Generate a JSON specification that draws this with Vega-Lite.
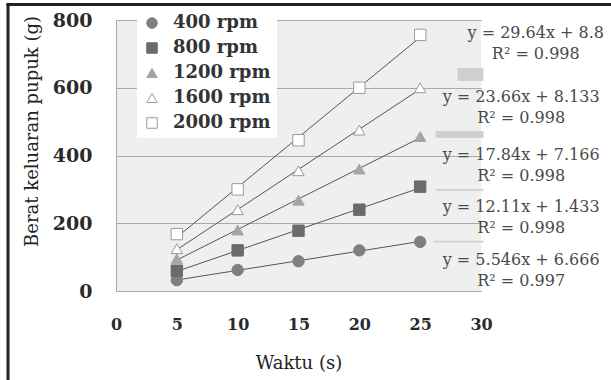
{
  "$schema": "https://vega.github.io/schema/vega-lite/v6.json",
  "width": 365,
  "height": 271,
  "autosize": {"type": "none"},
  "padding": {"left": 116, "top": 20, "right": 130, "bottom": 89},
  "background": "white",
  "config": {
    "view": {"stroke": null, "fill": "#efefef"},
    "font": "DejaVu Serif",
    "legend": {
      "orient": "none",
      "legendX": 21,
      "legendY": -12,
      "fillColor": "white",
      "padding": 6,
      "labelFont": "DejaVu Serif",
      "labelFontSize": 18,
      "labelFontWeight": "bold",
      "labelColor": "#333333",
      "symbolSize": 110,
      "symbolStrokeWidth": 1,
      "rowPadding": 7,
      "labelOffset": 12
    }
  },
  "datasets": {
    "points": [
      {"series": "400 rpm", "t": 5, "w": 32},
      {"series": "400 rpm", "t": 10, "w": 62},
      {"series": "400 rpm", "t": 15, "w": 88},
      {"series": "400 rpm", "t": 20, "w": 120},
      {"series": "400 rpm", "t": 25, "w": 145},
      {"series": "800 rpm", "t": 5, "w": 60},
      {"series": "800 rpm", "t": 10, "w": 120},
      {"series": "800 rpm", "t": 15, "w": 178},
      {"series": "800 rpm", "t": 20, "w": 240},
      {"series": "800 rpm", "t": 25, "w": 308},
      {"series": "1200 rpm", "t": 5, "w": 95},
      {"series": "1200 rpm", "t": 10, "w": 180},
      {"series": "1200 rpm", "t": 15, "w": 268},
      {"series": "1200 rpm", "t": 20, "w": 360},
      {"series": "1200 rpm", "t": 25, "w": 456},
      {"series": "1600 rpm", "t": 5, "w": 125},
      {"series": "1600 rpm", "t": 10, "w": 240},
      {"series": "1600 rpm", "t": 15, "w": 355},
      {"series": "1600 rpm", "t": 20, "w": 475},
      {"series": "1600 rpm", "t": 25, "w": 600},
      {"series": "2000 rpm", "t": 5, "w": 168},
      {"series": "2000 rpm", "t": 10, "w": 300},
      {"series": "2000 rpm", "t": 15, "w": 445},
      {"series": "2000 rpm", "t": 20, "w": 600},
      {"series": "2000 rpm", "t": 25, "w": 756}
    ],
    "labels": [
      {"series": "2000 rpm", "lx": 34.5, "ly": 762, "text": "y = 29.64x + 8.8\nR² = 0.998"},
      {"series": "1600 rpm", "lx": 33.3, "ly": 573, "text": "y = 23.66x + 8.133\nR² = 0.998"},
      {"series": "1200 rpm", "lx": 33.3, "ly": 401, "text": "y = 17.84x + 7.166\nR² = 0.998"},
      {"series": "800 rpm", "lx": 33.3, "ly": 248, "text": "y = 12.11x + 1.433\nR² = 0.998"},
      {"series": "400 rpm", "lx": 33.3, "ly": 91, "text": "y = 5.546x + 6.666\nR² = 0.997"}
    ],
    "keys": [
      {"series": "2000 rpm", "x": 28.07, "x2": 30.2, "y": 620, "y2": 658},
      {"series": "1600 rpm", "x": 26.26, "x2": 30.2, "y": 452, "y2": 472},
      {"series": "1200 rpm", "x": 26.26, "x2": 30.2, "y": 296, "y2": 301},
      {"series": "800 rpm", "x": 26.1, "x2": 30.2, "y": 143, "y2": 148}
    ],
    "frame": [
      {"edge": "left", "x": -9.0, "x2": -8.75, "y": -300, "y2": 850},
      {"edge": "top", "x": -9.0, "x2": 45, "y": 841, "y2": 850}
    ]
  },
  "layer": [
    {
      "mark": {"type": "rect", "color": "white", "clip": false},
      "encoding": {
        "x": {"datum": 26.1, "type": "quantitative", "scale": {"domain": [0, 30], "nice": false},
          "axis": {"values": [0, 5, 10, 15, 20, 25, 30], "grid": false, "domain": false, "ticks": false, "tickSize": 0,
            "labelFontSize": 16, "labelFontWeight": "bold", "labelColor": "#2a2a2a", "labelPadding": 25, "labelFlush": false,
            "title": "Waktu (s)", "titleFontSize": 18, "titleFontWeight": "normal", "titleColor": "#222222",
            "titleBaseline": "alphabetic", "titleY": 77}},
        "x2": {"datum": 42},
        "y": {"datum": -4, "type": "quantitative", "scale": {"domain": [0, 800], "nice": false},
          "axis": {"values": [0, 200, 400, 600, 800], "grid": true, "gridColor": "#a9a9a9", "domain": true, "domainColor": "#a9a9a9",
            "ticks": false, "tickSize": 0, "labelFontSize": 19, "labelFontWeight": "bold", "labelColor": "#2a2a2a", "labelPadding": 24,
            "title": "Berat keluaran pupuk (g)", "titleFontSize": 18, "titleFontWeight": "normal", "titleColor": "#222222",
            "titleBaseline": "alphabetic", "titleX": -79, "titleY": 111}},
        "y2": {"datum": 612}
      }
    },
    {
      "mark": {"type": "rect", "color": "white", "clip": false},
      "encoding": {
        "x": {"datum": 28.2, "type": "quantitative"},
        "x2": {"datum": 42},
        "y": {"datum": 612, "type": "quantitative"},
        "y2": {"datum": 840}
      }
    },
    {
      "data": {"name": "keys"},
      "mark": {"type": "rect", "color": "#cfcfcf", "clip": false},
      "encoding": {
        "x": {"field": "x", "type": "quantitative"},
        "x2": {"field": "x2"},
        "y": {"field": "y", "type": "quantitative"},
        "y2": {"field": "y2"}
      }
    },
    {
      "data": {"name": "frame"},
      "mark": {"type": "rect", "fill": "#222222", "clip": false},
      "encoding": {
        "x": {"field": "x", "type": "quantitative"},
        "x2": {"field": "x2"},
        "y": {"field": "y", "type": "quantitative"},
        "y2": {"field": "y2"}
      }
    },
    {
      "data": {"name": "points"},
      "transform": [{"regression": "w", "on": "t", "groupby": ["series"], "extent": [5, 25]}],
      "mark": {"type": "line", "color": "#555555", "strokeWidth": 1},
      "encoding": {
        "x": {"field": "t", "type": "quantitative"},
        "y": {"field": "w", "type": "quantitative"},
        "detail": {"field": "series"}
      }
    },
    {
      "data": {"name": "points"},
      "mark": {"type": "point", "opacity": 1, "strokeWidth": 1, "size": 130},
      "encoding": {
        "x": {"field": "t", "type": "quantitative"},
        "y": {"field": "w", "type": "quantitative"},
        "shape": {"field": "series", "type": "nominal", "title": null,
          "scale": {"domain": ["400 rpm", "800 rpm", "1200 rpm", "1600 rpm", "2000 rpm"],
            "range": ["circle", "square", "triangle-up", "triangle-up", "square"]}},
        "fill": {"field": "series", "type": "nominal", "title": null,
          "scale": {"domain": ["400 rpm", "800 rpm", "1200 rpm", "1600 rpm", "2000 rpm"],
            "range": ["#7f7f7f", "#6b6b6b", "#a5a5a5", "#ffffff", "#ffffff"]}},
        "stroke": {"field": "series", "type": "nominal", "title": null,
          "scale": {"domain": ["400 rpm", "800 rpm", "1200 rpm", "1600 rpm", "2000 rpm"],
            "range": ["#7f7f7f", "#6b6b6b", "#a5a5a5", "#9a9a9a", "#9a9a9a"]}}
      }
    },
    {
      "data": {"name": "labels"},
      "mark": {"type": "text", "align": "center", "baseline": "middle", "lineBreak": "\n", "lineHeight": 21,
        "fontSize": 16, "color": "#4a4a4a", "clip": false},
      "encoding": {
        "x": {"field": "lx", "type": "quantitative"},
        "y": {"field": "ly", "type": "quantitative"},
        "text": {"field": "text"}
      }
    }
  ]
}
